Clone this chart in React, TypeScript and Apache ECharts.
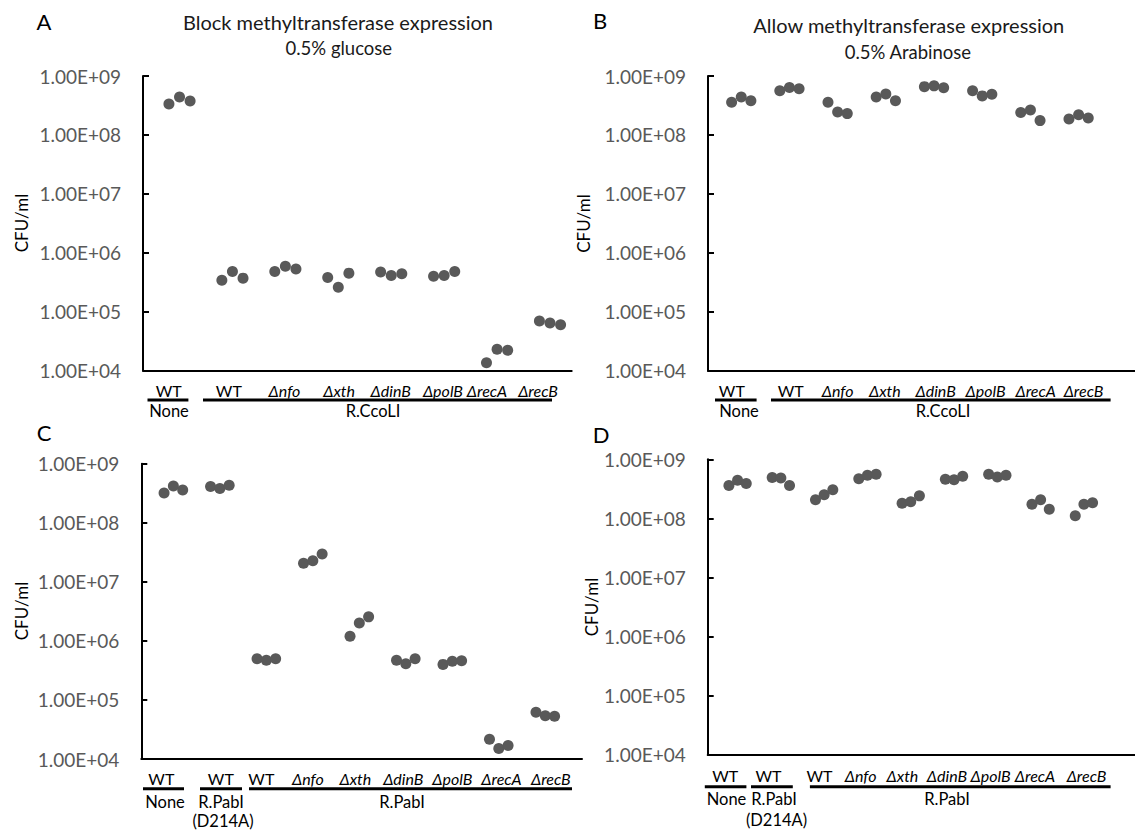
import React, { useEffect, useRef } from "react";
import * as echarts from "echarts";

// ---------- data ----------
const Y_TICKS = [1e4, 1e5, 1e6, 1e7, 1e8, 1e9];
const Y_TICK_LABELS = ["1.00E+04", "1.00E+05", "1.00E+06", "1.00E+07", "1.00E+08", "1.00E+09"];

const GROUPS_AB = ["WT", "WT", "Δnfo", "Δxth", "ΔdinB", "ΔpolB", "ΔrecA", "ΔrecB"];
const GROUPS_CD = ["WT", "WT", "WT", "Δnfo", "Δxth", "ΔdinB", "ΔpolB", "ΔrecA", "ΔrecB"];

// CFU/ml, three replicates per strain
const VALUES_A = [
  [3.35e8, 4.4e8, 3.77e8],
  [3.4e5, 4.8e5, 3.7e5],
  [4.8e5, 5.9e5, 5.3e5],
  [3.8e5, 2.6e5, 4.5e5],
  [4.7e5, 4.1e5, 4.4e5],
  [4.0e5, 4.1e5, 4.8e5],
  [1.35e4, 2.3e4, 2.2e4],
  [6.9e4, 6.4e4, 6.0e4],
];
const VALUES_B = [
  [3.6e8, 4.4e8, 3.8e8],
  [5.6e8, 6.4e8, 6.1e8],
  [3.6e8, 2.45e8, 2.3e8],
  [4.4e8, 4.95e8, 3.8e8],
  [6.6e8, 6.8e8, 6.3e8],
  [5.6e8, 4.6e8, 4.9e8],
  [2.4e8, 2.65e8, 1.75e8],
  [1.87e8, 2.2e8, 1.94e8],
];
const VALUES_C = [
  [3.2e8, 4.2e8, 3.6e8],
  [4.1e8, 3.8e8, 4.3e8],
  [5.0e5, 4.7e5, 5.0e5],
  [2.07e7, 2.27e7, 2.95e7],
  [1.2e6, 2.0e6, 2.55e6],
  [4.7e5, 4.1e5, 5.0e5],
  [4.0e5, 4.5e5, 4.6e5],
  [2.16e4, 1.5e4, 1.7e4],
  [6.2e4, 5.4e4, 5.3e4],
];
const VALUES_D = [
  [3.6e8, 4.4e8, 3.9e8],
  [4.9e8, 4.8e8, 3.6e8],
  [2.07e8, 2.5e8, 3.05e8],
  [4.7e8, 5.35e8, 5.6e8],
  [1.8e8, 1.9e8, 2.4e8],
  [4.6e8, 4.5e8, 5.15e8],
  [5.6e8, 5.0e8, 5.35e8],
  [1.73e8, 2.07e8, 1.42e8],
  [1.1e8, 1.73e8, 1.84e8],
];

const TITLE_A = ["Block methyltransferase expression", "0.5% glucose"];
const TITLE_B = ["Allow methyltransferase expression", "0.5% Arabinose"];

// ---------- layout ----------
const FONT = 'Lato, "Noto Sans", sans-serif';
const DOT_COLOR = "#595959";
const CENTER0 = 0.69;
const DOT_STEP = 0.2;

const PANELS = [
  { letter: "A", values: VALUES_A, groups: GROUPS_AB, left: 143, top: 76, width: 428.7, height: 294.5, xMax: 8.1,
    letterPos: [44, 21.7], yName: [21, 223], labelY: 390,
    shifts: [-10.8, -3.6, -0.9, 0.8, -0.5, -1.2, -10.1, -12],
    bars: [[147.5, 188.4], [203, 552]], barY: 400,
    groupTexts: [["None", 169, 411], ["R.CcoLI", 373, 411]] },
  { letter: "B", values: VALUES_B, groups: GROUPS_AB, left: 708, top: 76, width: 427, height: 294.7, xMax: 8.86,
    letterPos: [600, 20], yName: [583.6, 223.5], labelY: 390,
    shifts: [-9.4, 1.2, 0, -1, 1.6, 3.4, 5.2, 4.9],
    bars: [[715, 756.6], [771, 1110.6]], barY: 400,
    groupTexts: [["None", 739, 411], ["R.CcoLI", 943, 411]] },
  { letter: "C", values: VALUES_C, groups: GROUPS_CD, left: 141.3, top: 463.7, width: 440.7, height: 295.3, xMax: 9.48,
    letterPos: [44, 432.5], yName: [21, 611], labelY: 778.3,
    shifts: [-12, 1, -5, -5, -4, -2.5, 0, 2.7, 5.5],
    bars: [[143, 184], [200, 242], [249, 572]], barY: 788.7,
    groupTexts: [["None", 165, 801.7], ["R.PabI", 221, 801.7], ["(D214A)", 223, 821], ["R.PabI", 402, 801.7]] },
  { letter: "D", values: VALUES_D, groups: GROUPS_CD, left: 707.7, top: 459.3, width: 427.3, height: 295, xMax: 9.87,
    letterPos: [601, 434], yName: [591, 607], labelY: 775,
    shifts: [-12.4, -12.4, -4.7, -6.8, -8.3, -7.1, -6.7, -5.6, 2.6],
    bars: [[704.8, 746.4], [751, 792.8], [809.9, 1110.6]], barY: 786.7,
    groupTexts: [["None", 726.5, 799], ["R.PabI", 774, 799], ["(D214A)", 776.5, 820], ["R.PabI", 947, 799]] },
];

function tickLabel(v: number): string {
  const lv = Math.log10(v);
  for (let i = 0; i < Y_TICKS.length; i++) {
    if (Math.abs(Math.log10(Y_TICKS[i]) - lv) < 1e-6) return Y_TICK_LABELS[i];
  }
  return "";
}

function txt(text: string, x: number, y: number, size: number, extra: any = {}) {
  return {
    type: "text",
    x,
    y,
    silent: true,
    style: {
      text,
      fontSize: size,
      fontFamily: FONT,
      fill: "#000",
      align: "center",
      verticalAlign: "middle",
      ...extra,
    },
  };
}

export default function App() {
  const ref = useRef<HTMLDivElement>(null);

  useEffect(() => {
    if (!ref.current) return;
    const chart = echarts.init(ref.current, null, { renderer: "svg" });

    const option: any = {
      animation: false,
      backgroundColor: "#fff",
      grid: PANELS.map((p) => ({
        left: p.left,
        top: p.top,
        width: p.width,
        height: p.height,
        containLabel: false,
      })),
      xAxis: PANELS.map((p, i) => ({
        gridIndex: i,
        type: "value",
        min: 0,
        max: p.xMax,
        axisLabel: { show: false },
        axisTick: { show: false },
        splitLine: { show: false },
        axisLine: { show: true, onZero: false, lineStyle: { color: "#000", width: 2 } },
      })),
      yAxis: PANELS.map((p, i) => ({
        gridIndex: i,
        type: "log",
        logBase: 10,
        min: 1e4,
        max: 1e9,
        splitNumber: 5,
        axisLine: { show: true, lineStyle: { color: "#000", width: 2 } },
        axisTick: { show: true, inside: true, length: 6, lineStyle: { color: "#000", width: 2 } },
        minorTick: { show: false },
        splitLine: { show: false },
        axisLabel: {
          margin: 22,
          fontSize: 19,
          color: "#595959",
          fontFamily: FONT,
          formatter: (v: number) => tickLabel(v),
        },
      })),
      series: PANELS.map((p, i) => ({
        type: "scatter",
        xAxisIndex: i,
        yAxisIndex: i,
        symbol: "circle",
        symbolSize: 11,
        itemStyle: { color: DOT_COLOR, opacity: 1 },
        emphasis: { disabled: true },
        data: p.values.flatMap((reps, g) =>
          reps.map((v, r) => [g + CENTER0 + (r - 1) * DOT_STEP, v])
        ),
      })),
    };
    chart.setOption(option);

    const graphic: any[] = [];
    PANELS.forEach((p, i) => {
      graphic.push(txt(p.letter, p.letterPos[0], p.letterPos[1], 22));
      graphic.push({
        ...txt("CFU/ml", p.yName[0], p.yName[1], 17),
        rotation: Math.PI / 2,
      });
      p.groups.forEach((g, gi) => {
        const cx = chart.convertToPixel({ xAxisIndex: i } as any, gi + CENTER0) as number;
        graphic.push(
          txt(g, cx + p.shifts[gi], p.labelY, 16, g.startsWith("Δ") ? { fontStyle: "italic" } : {})
        );
      });
      p.bars.forEach(([x0, x1]) => {
        graphic.push({
          type: "rect",
          silent: true,
          shape: { x: x0, y: p.barY - 1.5, width: x1 - x0, height: 3 },
          style: { fill: "#000" },
        });
      });
      p.groupTexts.forEach(([t, x, y]) => {
        graphic.push(txt(t as string, x as number, y as number, 16.5));
      });
    });
    graphic.push(txt(TITLE_A[0], 338, 21.7, 20, { fill: "#1a1a1a" }));
    graphic.push(txt(TITLE_A[1], 338.8, 48.3, 18.5, { fill: "#1a1a1a" }));
    graphic.push(txt(TITLE_B[0], 908.8, 25, 20, { fill: "#1a1a1a" }));
    graphic.push(txt(TITLE_B[1], 907.9, 51.7, 18.5, { fill: "#1a1a1a" }));

    chart.setOption({ graphic });

    return () => {
      chart.dispose();
    };
  }, []);

  return (
    <div
      ref={ref}
      style={{ position: "absolute", left: 0, top: 0, width: 1135, height: 832 }}
    />
  );
}
